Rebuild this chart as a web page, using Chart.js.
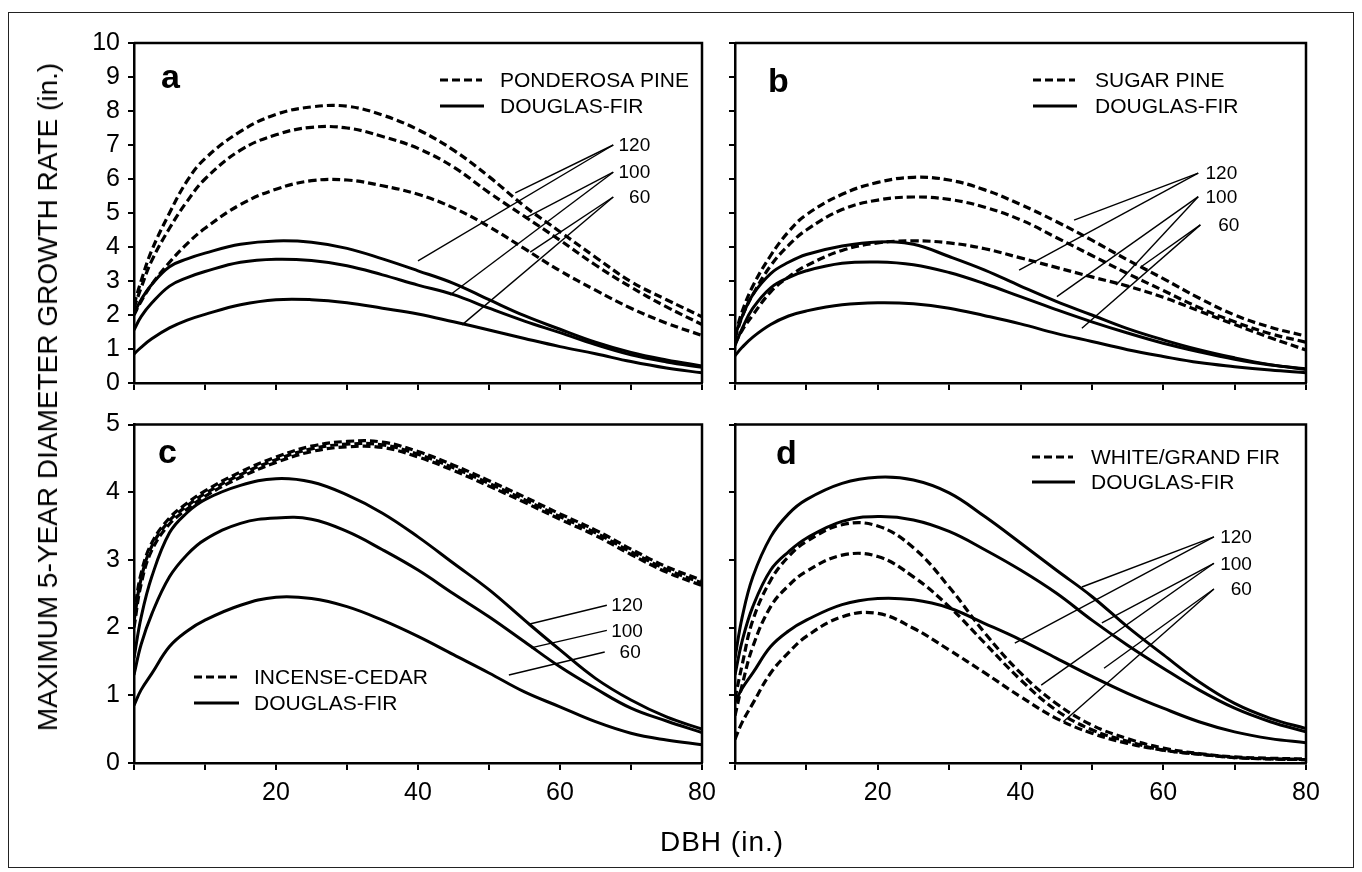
<!DOCTYPE html>
<html><head><meta charset="utf-8">
<script src="https://cdn.jsdelivr.net/npm/chart.js@4.4.1/dist/chart.umd.min.js"></script>
<style>
html,body{margin:0;padding:0;background:#fff;}
#wrap{position:relative;width:1362px;height:872px;overflow:hidden;font-family:"Liberation Sans",Arial,Helvetica,sans-serif;color:#000;}
#wrap canvas{position:absolute;left:0;top:0;}
#frame{position:absolute;left:8px;top:12px;width:1346px;height:856px;border:1.5px solid #222;box-sizing:border-box;}
#ytitle{position:absolute;left:48px;top:397px;transform:translate(-50%,-50%) rotate(-90deg);white-space:nowrap;font-size:28px;}
#xtitle{position:absolute;left:722px;top:842px;transform:translate(-50%,-50%);white-space:nowrap;font-size:28px;letter-spacing:1px;}
</style>
</head><body>
<div id="wrap">
<div id="frame"></div>
<canvas id="ca" width="1362" height="872"></canvas>
<canvas id="cb" width="1362" height="872"></canvas>
<canvas id="cc" width="1362" height="872"></canvas>
<canvas id="cd" width="1362" height="872"></canvas>
<div id="ytitle">MAXIMUM 5-YEAR DIAMETER GROWTH RATE (in.)</div>
<div id="xtitle">DBH (in.)</div>
</div>
<script>
// ---------- data ----------
const DBH = [0,1,2.5,5,7.5,10,15,20,25,30,35,40,45,50,55,60,65,70,75,80];

const PONDEROSA_120 = [2.3,3.0,3.9,5.0,5.95,6.6,7.4,7.9,8.12,8.14,7.88,7.45,6.85,6.07,5.2,4.45,3.7,2.98,2.45,1.95];
const PONDEROSA_100 = [2.2,2.8,3.6,4.55,5.35,6.0,6.85,7.3,7.52,7.5,7.25,6.9,6.35,5.6,4.9,4.2,3.47,2.82,2.24,1.72];
const PONDEROSA_60  = [2.0,2.4,2.9,3.55,4.1,4.55,5.25,5.7,5.95,5.97,5.8,5.55,5.15,4.6,3.95,3.3,2.73,2.2,1.76,1.4];
const DF_A_120 = [2.05,2.45,2.9,3.42,3.65,3.82,4.08,4.18,4.14,3.96,3.65,3.3,2.93,2.45,1.98,1.58,1.2,0.9,0.68,0.5];
const DF_A_100 = [1.56,1.95,2.35,2.85,3.1,3.28,3.55,3.64,3.6,3.45,3.18,2.88,2.6,2.2,1.82,1.48,1.13,0.83,0.62,0.46];
const DF_A_60  = [0.85,1.05,1.3,1.62,1.85,2.02,2.3,2.45,2.45,2.36,2.2,2.03,1.8,1.56,1.31,1.07,0.86,0.63,0.44,0.3];

const SUGAR_120 = [1.4,2.1,2.85,3.75,4.45,4.95,5.55,5.9,6.05,5.97,5.68,5.25,4.75,4.2,3.62,3.07,2.5,2.0,1.64,1.38];
const SUGAR_100 = [1.3,1.95,2.6,3.45,4.05,4.5,5.1,5.38,5.47,5.4,5.17,4.8,4.28,3.75,3.22,2.72,2.22,1.8,1.45,1.2];
const SUGAR_60  = [1.15,1.55,2.0,2.68,3.12,3.45,3.9,4.12,4.18,4.12,3.95,3.68,3.4,3.12,2.85,2.52,2.12,1.72,1.33,0.97];
const DF_B_120 = [1.4,1.95,2.6,3.22,3.55,3.78,4.03,4.15,4.08,3.72,3.32,2.85,2.4,2.0,1.6,1.27,0.98,0.74,0.54,0.4];
const DF_B_100 = [1.1,1.6,2.2,2.8,3.1,3.3,3.52,3.56,3.48,3.25,2.92,2.54,2.16,1.8,1.47,1.17,0.92,0.7,0.53,0.42];
const DF_B_60  = [0.8,1.05,1.35,1.72,1.97,2.12,2.3,2.36,2.33,2.2,1.98,1.74,1.46,1.22,0.98,0.78,0.6,0.48,0.38,0.3];

const CEDAR_120 = [2.2,2.8,3.25,3.62,3.84,4.02,4.3,4.52,4.68,4.75,4.74,4.6,4.4,4.17,3.93,3.68,3.44,3.16,2.9,2.7];
const CEDAR_100 = [2.1,2.72,3.2,3.58,3.8,3.98,4.26,4.48,4.64,4.71,4.7,4.56,4.36,4.13,3.89,3.64,3.4,3.12,2.86,2.66];
const CEDAR_60  = [2.0,2.64,3.14,3.53,3.75,3.94,4.22,4.44,4.6,4.67,4.66,4.52,4.32,4.09,3.85,3.6,3.36,3.08,2.82,2.62];
const DF_C_120 = [1.55,2.15,2.75,3.4,3.7,3.89,4.1,4.2,4.15,3.96,3.69,3.34,2.95,2.56,2.11,1.67,1.25,0.93,0.68,0.5];
const DF_C_100 = [1.3,1.75,2.2,2.75,3.08,3.3,3.54,3.62,3.6,3.42,3.15,2.85,2.5,2.16,1.79,1.42,1.1,0.81,0.62,0.45];
const DF_C_60  = [0.85,1.08,1.32,1.72,1.95,2.11,2.33,2.45,2.43,2.31,2.11,1.87,1.6,1.33,1.05,0.83,0.61,0.44,0.34,0.27];

const WHITE_120 = [0.95,1.45,2.11,2.7,3.05,3.27,3.52,3.5,3.18,2.6,1.92,1.33,0.88,0.56,0.36,0.22,0.14,0.09,0.07,0.06];
const WHITE_100 = [0.7,1.15,1.72,2.31,2.62,2.83,3.07,3.05,2.75,2.31,1.77,1.23,0.78,0.49,0.32,0.19,0.13,0.08,0.06,0.05];
const WHITE_60  = [0.35,0.6,0.88,1.33,1.63,1.87,2.16,2.21,1.99,1.67,1.33,0.98,0.66,0.44,0.29,0.19,0.13,0.08,0.06,0.05];
const DF_D_120 = [1.55,2.15,2.75,3.34,3.68,3.89,4.13,4.22,4.18,3.99,3.64,3.25,2.85,2.46,2.01,1.6,1.2,0.88,0.66,0.51];
const DF_D_100 = [1.3,1.8,2.31,2.85,3.12,3.32,3.57,3.64,3.59,3.42,3.15,2.85,2.51,2.11,1.74,1.4,1.08,0.81,0.61,0.46];
const DF_D_60  = [0.9,1.1,1.33,1.72,1.95,2.11,2.34,2.43,2.41,2.29,2.06,1.82,1.55,1.28,1.03,0.81,0.61,0.46,0.36,0.3];

const X_LABELS = [20,40,60,80];
const LEADER_LABELS = ['120','100','60'];

// leader lines: anchor and targets in data units
const LEADERS_A = [[[67.5,7.0],[[53.7,5.59],[40,3.59]]],[[67.5,6.2],[[55.1,4.85],[44.5,2.59]]],[[67.5,5.47],[[55.8,3.85],[46.2,1.71]]]];
const LEADERS_B = [[[64.9,6.17],[[47.5,4.79],[39.8,3.32]]],[[64.9,5.48],[[53.4,2.88],[45.1,2.54]]],[[65.2,4.65],[[56.9,3.42],[48.6,1.61]]]];
const LEADERS_C = [[[66.6,2.33],[[55.6,2.05]]],[[66.6,1.96],[[55.9,1.7]]],[[66.3,1.64],[[52.8,1.3]]]];
const LEADERS_D = [[[67.1,3.34],[[48.6,2.6],[39.2,1.77]]],[[67.1,2.95],[[51.4,2.07],[42.9,1.15]]],[[67.1,2.57],[[51.7,1.4],[46,0.61]]]];

// ---------- drawing ----------
const FONT = '"Liberation Sans", Arial, Helvetica, sans-serif';
Chart.defaults.font.family = FONT;
Chart.defaults.color = '#000';
const AXW = 60, AXH = 50;

const decor = {
  id: 'decor',
  afterDatasetsDraw(chart, args, o) {
    const {ctx, chartArea: ca, scales: {x, y}} = chart;
    ctx.save();
    ctx.strokeStyle = '#000';
    ctx.fillStyle = '#000';
    ctx.lineCap = 'butt';
    ctx.lineWidth = 2.5;
    ctx.beginPath();
    ctx.moveTo(ca.left, ca.top); ctx.lineTo(ca.right, ca.top); ctx.lineTo(ca.right, ca.bottom);
    ctx.stroke();
    ctx.font = 'bold 34px ' + FONT;
    ctx.textAlign = 'left'; ctx.textBaseline = 'alphabetic';
    ctx.fillText(o.letter, ca.left + o.letterPos[0], ca.top + o.letterPos[1]);
    const lg = o.legend;
    ctx.lineWidth = 3;
    ctx.setLineDash([8, 4]);
    ctx.beginPath();
    ctx.moveTo(ca.left + lg.x0, ca.top + lg.y0); ctx.lineTo(ca.left + lg.x1, ca.top + lg.y0); ctx.stroke();
    ctx.setLineDash([]);
    ctx.beginPath();
    ctx.moveTo(ca.left + lg.x0, ca.top + lg.y0 + lg.gap); ctx.lineTo(ca.left + lg.x1 + 2, ca.top + lg.y0 + lg.gap); ctx.stroke();
    ctx.font = '21px ' + FONT;
    ctx.textBaseline = 'middle';
    ctx.fillText(lg.dashed, ca.left + lg.tx, ca.top + lg.y0 + 1);
    ctx.fillText('DOUGLAS-FIR', ca.left + lg.tx, ca.top + lg.y0 + lg.gap + 1);
    ctx.lineWidth = 1.4;
    ctx.font = '19px ' + FONT;
    ctx.textAlign = 'right';
    o.leaders.forEach((L, i) => {
      const ax = x.getPixelForValue(L[0][0]), ay = y.getPixelForValue(L[0][1]);
      L[1].forEach(t => {
        ctx.beginPath(); ctx.moveTo(ax, ay);
        ctx.lineTo(x.getPixelForValue(t[0]), y.getPixelForValue(t[1]));
        ctx.stroke();
      });
      ctx.fillText(LEADER_LABELS[i], ax + o.labelDx, ay + 1);
    });
    ctx.restore();
  }
};

function ds(vals, dashed) {
  return {
    data: DBH.map((xv, i) => ({x: xv, y: vals[i]})),
    borderColor: '#000',
    borderWidth: dashed ? 3.2 : 3,
    borderDash: dashed ? [8, 4] : [],
    pointRadius: 0,
    tension: 0.4,
    fill: false
  };
}

function makePanel(id, p) {
  new Chart(document.getElementById(id), {
    type: 'line',
    data: {datasets: [
      ...p.dashed.map(v => ds(v, true)),
      ...p.solid.map(v => ds(v, false))
    ]},
    options: {
      responsive: false,
      animation: false,
      events: [],
      layout: {padding: {left: p.area[0] - AXW, top: p.area[1], right: 1362 - p.area[2], bottom: 872 - p.area[3] - AXH}},
      plugins: {legend: {display: false}, tooltip: {enabled: false}, decor: p.decor},
      scales: {
        x: {
          type: 'linear', min: 0, max: 80,
          afterFit: s => { s.height = AXH; },
          ticks: {stepSize: 10, autoSkip: false, maxRotation: 0, display: p.showX,
                  padding: 8, font: {size: 25},
                  callback: v => X_LABELS.includes(v) ? String(v) : ''},
          grid: {drawOnChartArea: false, drawTicks: true, tickLength: 7, lineWidth: 2, color: '#000'},
          border: {display: true, width: 2.5, color: '#000'}
        },
        y: {
          type: 'linear', min: 0, max: p.yMax,
          afterFit: s => { s.width = AXW; },
          ticks: {stepSize: 1, display: p.showY, padding: 8, font: {size: 25}},
          grid: {drawOnChartArea: false, drawTicks: true, tickLength: 6, lineWidth: 2, color: '#000'},
          border: {display: true, width: 2.5, color: '#000'}
        }
      }
    },
    plugins: [decor]
  });
}

makePanel('ca', {area: [134, 43, 702, 383], yMax: 10, showX: false, showY: true,
  dashed: [PONDEROSA_120, PONDEROSA_100, PONDEROSA_60], solid: [DF_A_120, DF_A_100, DF_A_60],
  decor: {letter: 'a', letterPos: [27, 45], labelDx: 37, leaders: LEADERS_A,
          legend: {dashed: 'PONDEROSA PINE', x0: 306, x1: 348, y0: 37, gap: 26, tx: 366}}});
makePanel('cb', {area: [735, 43, 1306, 383], yMax: 10, showX: false, showY: false,
  dashed: [SUGAR_120, SUGAR_100, SUGAR_60], solid: [DF_B_120, DF_B_100, DF_B_60],
  decor: {letter: 'b', letterPos: [33, 49], labelDx: 39, leaders: LEADERS_B,
          legend: {dashed: 'SUGAR PINE', x0: 298, x1: 340, y0: 37, gap: 26, tx: 360}}});
makePanel('cc', {area: [134, 424.5, 702, 763], yMax: 5, showX: true, showY: true,
  dashed: [CEDAR_120, CEDAR_100, CEDAR_60], solid: [DF_C_120, DF_C_100, DF_C_60],
  decor: {letter: 'c', letterPos: [24, 38], labelDx: 36, leaders: LEADERS_C,
          legend: {dashed: 'INCENSE-CEDAR', x0: 60, x1: 103, y0: 252.5, gap: 26, tx: 120}}});
makePanel('cd', {area: [735, 424.5, 1306, 763], yMax: 5, showX: true, showY: false,
  dashed: [WHITE_120, WHITE_100, WHITE_60], solid: [DF_D_120, DF_D_100, DF_D_60],
  decor: {letter: 'd', letterPos: [41, 39], labelDx: 38, leaders: LEADERS_D,
          legend: {dashed: 'WHITE/GRAND FIR', x0: 297, x1: 338, y0: 32.5, gap: 25, tx: 356}}});
</script>
</body></html>
